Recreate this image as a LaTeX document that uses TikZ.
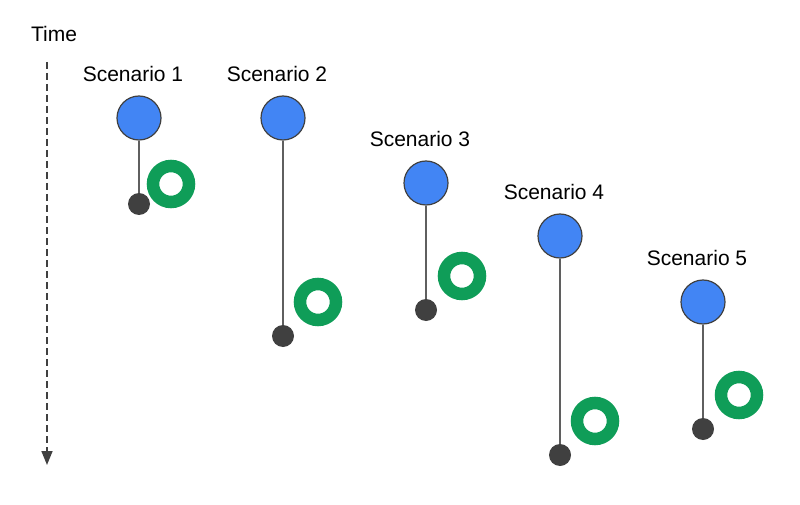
\documentclass[tikz,border=0pt]{standalone}
\usepackage{fontspec}
\setmainfont{Liberation Sans}
\usetikzlibrary{arrows.meta,positioning}
\definecolor{gblue}{HTML}{4285F4}
\definecolor{ggreen}{HTML}{0F9D58}
\definecolor{gdark}{HTML}{404040}
\definecolor{gline}{HTML}{5F5F5F}
\tikzset{
  event/.style={circle, fill=gblue, draw=gdark, line width=1.2pt, minimum size=44pt, inner sep=0pt},
  outcome/.style={circle, fill=gdark, minimum size=22pt, inner sep=0pt},
  marker/.style={circle, draw=ggreen, line width=12.5pt, minimum size=36pt, inner sep=0pt},
  caption/.style={font=\fontsize{21}{24}\selectfont, text=black},
}

\begin{document}
\begin{tikzpicture}[x=1pt,y=-1pt]
 \useasboundingbox (0,0) rectangle (800,505);
 % time axis
 \node[caption] (time) at (54,34) {Time};
 \coordinate (ttop) at (47,62);
 \coordinate (tbot) at (47,465);
 \draw[gdark, line width=1.6pt, dash pattern=on 7pt off 4pt, -{Triangle[length=14pt,width=11pt]}] (ttop) -- (tbot);
 % scenarios: number / x / y of event / length of stem / marker offset
 \foreach \i/\x/\y/\len/\dx/\dy in {1/139/118/86/32/20, 2/283/118/218/35/34, 3/426/183/127/36/34, 4/560/236/219/35/34, 5/703/302/127/36/34} {
  \node[event] (ev\i) at (\x,\y) {};
  \node[caption] (lab\i) at (\x-6,\y-44) {Scenario \i};
  \node[outcome] (out\i) at (\x,\y+\len) {};
  \node[marker] (mk\i) at (\x+\dx,\y+\len-\dy) {};
  \draw[gline, line width=1.6pt] (ev\i) -- (out\i);
 }
\end{tikzpicture}
\end{document}
